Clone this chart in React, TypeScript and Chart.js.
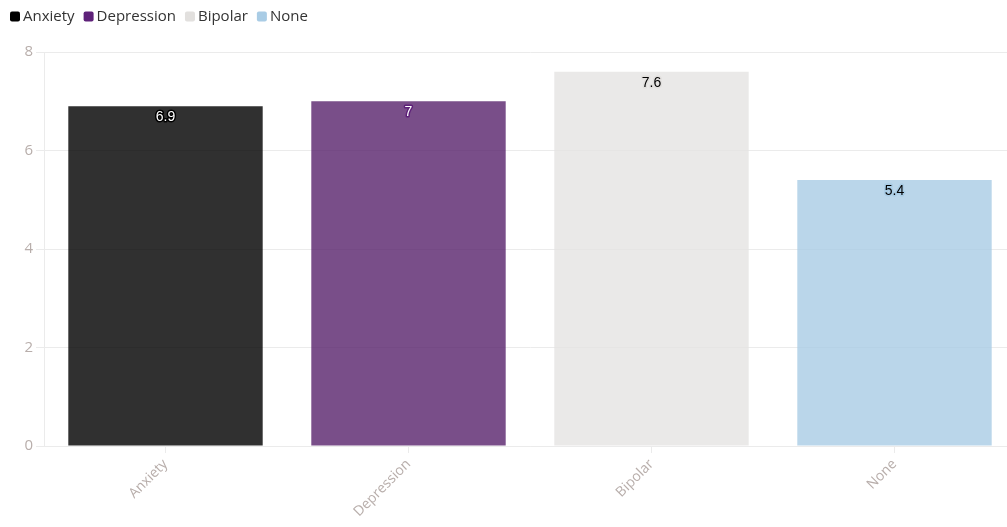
import React, { useEffect, useRef } from "react";
import { Chart, registerables } from "chart.js";

Chart.register(...registerables);

const categories = ["Anxiety", "Depression", "Bipolar", "None"];
const values = [6.9, 7, 7.6, 5.4];
const baseColors = ["#000000", "#5e2179", "#e2e0de", "#a9cce5"];
const barColors = ["rgba(0,0,0,0.81)", "rgba(88,34,107,0.8)", "rgba(229,228,226,0.8)", "rgba(169,204,229,0.8)"];
const labelFill = ["#ffffff", "#ffffff", "#000000", "#000000"];
const labelStroke = ["#000000", "#5e2179", "#e2e0de", "#a9cce5"];
const yTicks = [0, 2, 4, 6, 8];

const FONT = "'Open Sans', sans-serif";

const valueLabels = {
  id: "valueLabels",
  afterDatasetsDraw(chart: any) {
    const ctx = chart.ctx;
    const meta = chart.getDatasetMeta(0);
    ctx.save();
    ctx.font = "14px 'Liberation Sans', Arial, sans-serif";
    ctx.textAlign = "center";
    ctx.textBaseline = "middle";
    ctx.lineJoin = "round";
    meta.data.forEach((bar: any, i: number) => {
      const x = bar.x;
      const y = bar.y + 11;
      const txt = String(values[i]);
      ctx.lineWidth = 3;
      ctx.strokeStyle = labelStroke[i];
      ctx.strokeText(txt, x, y);
      ctx.fillStyle = labelFill[i];
      ctx.fillText(txt, x, y);
    });
    ctx.restore();
  },
};

const customLegend = {
  id: "customLegend",
  afterDraw(chart: any) {
    const ctx = chart.ctx;
    ctx.save();
    ctx.font = `15px ${FONT}`;
    ctx.textBaseline = "middle";
    ctx.textAlign = "left";
    let x = 10;
    const cy = 16.5;
    categories.forEach((c, i) => {
      ctx.fillStyle = baseColors[i];
      ctx.beginPath();
      (ctx as any).roundRect(x, cy - 5, 10, 10, 2);
      ctx.fill();
      ctx.fillStyle = "#333333";
      ctx.fillText(c, x + 13, cy);
      x += 13 + ctx.measureText(c).width + 9;
    });
    ctx.restore();
  },
};

export default function App() {
  const ref = useRef<HTMLCanvasElement | null>(null);
  useEffect(() => {
    document.body.style.margin = "0";
    const chart = new Chart(ref.current!, {
      type: "bar",
      data: {
        labels: categories,
        datasets: [
          {
            label: "Score",
            data: values,
            backgroundColor: barColors,
            borderWidth: 0,
            barPercentage: 0.8,
            categoryPercentage: 1.0,
          },
        ],
      },
      options: {
        animation: false,
        responsive: false,
        maintainAspectRatio: false,
        layout: { padding: { top: 52, left: 0, right: 0, bottom: 0 } },
        plugins: {
          tooltip: { enabled: false },
          legend: { display: false },
        },
        scales: {
          x: {
            afterFit: (axis: any) => {
              axis.height = 81;
            },
            grid: { display: true, drawOnChartArea: false, offset: false, color: "#ebebeb", tickLength: 7 },
            border: { color: "#ebebeb" },
            ticks: {
              color: "#b8aeab",
              font: { family: FONT, size: 14 },
              maxRotation: 45,
              minRotation: 45,
              padding: 3,
            },
          },
          y: {
            min: 0,
            max: 8,
            afterFit: (axis: any) => {
              axis.width = 44;
            },
            afterBuildTicks: (axis: any) => {
              axis.ticks = yTicks.map((v) => ({ value: v }));
            },
            grid: { color: "#ebebeb", tickLength: 8 },
            border: { color: "#ebebeb" },
            ticks: {
              color: "#b8aeab",
              font: { family: FONT, size: 15 },
              padding: 3,
            },
          },
        },
      },
      plugins: [valueLabels, customLegend],
    } as any);
    return () => chart.destroy();
  }, []);
  return (
    <div style={{ width: 1007, height: 527, overflow: "hidden" }}>
      <canvas ref={ref} width={1016} height={527} style={{ display: "block" }} />
    </div>
  );
}
